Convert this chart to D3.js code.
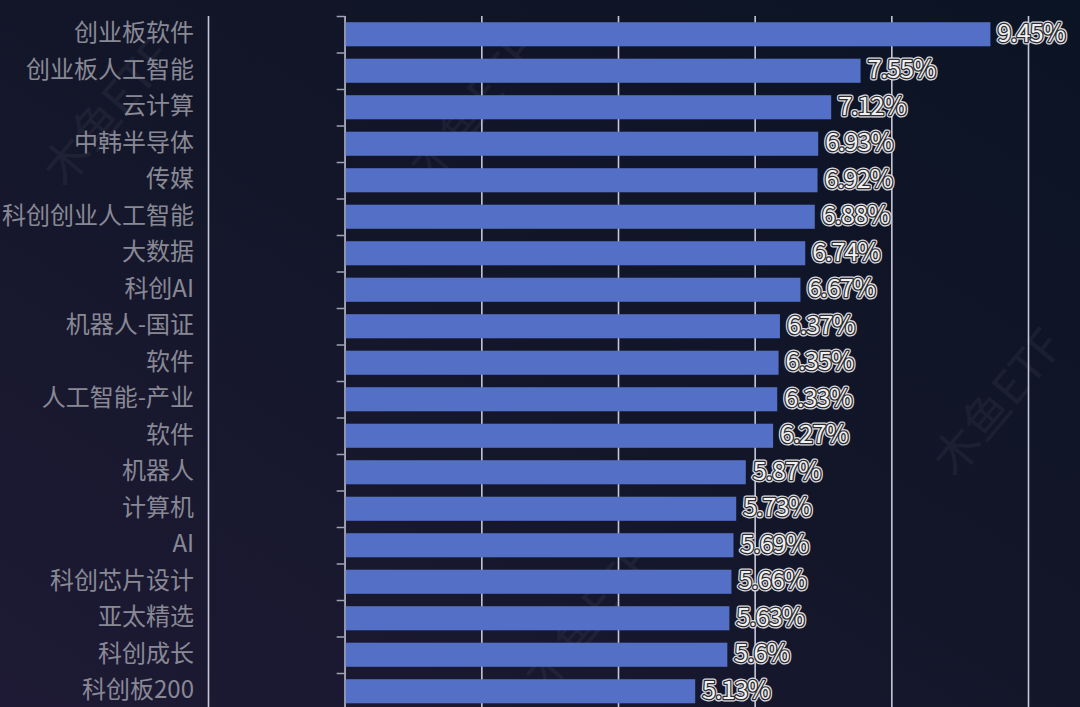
<!DOCTYPE html>
<html>
<head>
<meta charset="utf-8">
<script src="https://cdn.jsdelivr.net/npm/d3@7"></script>
<style>
  html, body { margin: 0; padding: 0; background: #121427; overflow: hidden; }
  svg { display: block; }
</style>
</head>
<body>
<svg id="chart"></svg>
<script>
// [A] Datos -------------------------------------------------------------
const categories = ["创业板软件", "创业板人工智能", "云计算", "中韩半导体", "传媒", "科创创业人工智能",
    "大数据", "科创AI", "机器人-国证", "软件", "人工智能-产业", "软件", "机器人", "计算机", "AI",
    "科创芯片设计", "亚太精选", "科创成长", "科创板200"];
const values = [9.45, 7.55, 7.12, 6.93, 6.92, 6.88, 6.74, 6.67, 6.37, 6.35, 6.33, 6.27, 5.87, 5.73,
    5.69, 5.66, 5.63, 5.6, 5.13];
const xTicks = [-2, 0, 2, 4, 6, 8, 10];
const watermarks = ["木鱼ETF", "木鱼ETF", "木鱼ETF", "木鱼ETF"];

// [B] Configuración -----------------------------------------------------
const width = 1080;
const height = 707;
const plotTop = 16;
const step = 36.5;
const plotBottom = plotTop + categories.length * step;
const labelShift = -3.5; // ajuste vertical de los textos

const svg = d3.select("#chart")
    .attr("width", width)
    .attr("height", height);

// [B.1] Fondo degradado
const defs = svg.append("defs");
const grad = defs.append("linearGradient")
    .attr("id", "bg")
    .attr("x1", "0%").attr("y1", "100%")
    .attr("x2", "100%").attr("y2", "0%");
grad.append("stop").attr("offset", "0%").attr("stop-color", "#1e1a35");
grad.append("stop").attr("offset", "50%").attr("stop-color", "#131629");
grad.append("stop").attr("offset", "100%").attr("stop-color", "#0b1424");
svg.append("rect")
    .attr("width", width).attr("height", height)
    .attr("fill", "url(#bg)");

// [B.2] Marcas de agua
const wmPos = [[105, 110], [470, 105], [995, 400], [585, 615]];
svg.append("g").selectAll("text")
    .data(watermarks)
    .join("text")
    .attr("transform", (d, i) => `translate(${wmPos[i][0]},${wmPos[i][1]}) rotate(-50)`)
    .attr("text-anchor", "middle")
    .attr("dominant-baseline", "central")
    .attr("font-family", "Noto Sans CJK SC")
    .attr("font-size", 46)
    .attr("fill", "#ffffff")
    .attr("opacity", 0.045)
    .text(d => d);

// [C] Escalas -----------------------------------------------------------
const x = d3.scaleLinear()
    .domain([-2, 10])
    .range([208, 1028]);

const y = d3.scaleBand()
    .domain(d3.range(categories.length))
    .range([plotTop, plotBottom])
    .paddingInner(0.34)
    .paddingOuter(0.17);

const yTick = d3.scaleLinear()
    .domain([0, categories.length])
    .range([plotTop, plotBottom]);

// [D] Grilla vertical ---------------------------------------------------
const grid = svg.append("g")
    .attr("transform", `translate(0,${plotBottom})`)
    .call(d3.axisBottom(x)
        .tickValues(xTicks)
        .tickSize(-(plotBottom - plotTop))
        .tickFormat(""));
grid.select(".domain").remove();
grid.selectAll(".tick line")
    .attr("stroke", "#c4c8d6")
    .attr("stroke-width", 1.6);

// [E] Eje Y con marcas en los límites de las bandas ---------------------
const yAxis = svg.append("g")
    .attr("transform", `translate(${x(0)},0)`)
    .call(d3.axisLeft(yTick)
        .tickValues(d3.range(categories.length + 1))
        .tickSize(8)
        .tickSizeOuter(0)
        .tickFormat(""));
yAxis.select(".domain").attr("stroke", "#a0a2b2").attr("stroke-width", 1.5);
yAxis.selectAll(".tick line").attr("stroke", "#a0a2b2").attr("stroke-width", 1.5);

// [F] Barras ------------------------------------------------------------
svg.append("g").selectAll("rect")
    .data(values)
    .join("rect")
    .attr("x", x(0) + 1)
    .attr("y", (d, i) => y(i))
    .attr("width", d => x(d) - x(0) - 1)
    .attr("height", y.bandwidth())
    .attr("fill", "#5470c6");

// [G] Etiquetas de categoría ---------------------------------------------
svg.append("g").selectAll("text")
    .data(categories)
    .join("text")
    .attr("x", 194)
    .attr("y", (d, i) => y(i) + y.bandwidth() / 2 + labelShift)
    .attr("text-anchor", "end")
    .attr("dominant-baseline", "central")
    .attr("font-family", "Noto Sans CJK SC")
    .attr("font-size", 24)
    .attr("fill", "#898995")
    .text(d => d);

// [H] Etiquetas de valor (halo claro + borde oscuro + relleno blanco) ----
const fmt = d => `${d}%`;
const layers = [
    { stroke: "#dcdce0", width: 5 },
    { stroke: "#2a2a2e", width: 2.6 },
    { stroke: "none", width: 0 }
];
layers.forEach(l => {
    svg.append("g").selectAll("text")
        .data(values)
        .join("text")
        .attr("x", d => x(d) + 7)
        .attr("y", (d, i) => y(i) + y.bandwidth() / 2 + labelShift)
        .attr("dominant-baseline", "central")
        .attr("font-family", "Noto Sans CJK SC")
        .attr("font-size", 25)
        .attr("letter-spacing", -0.8)
        .attr("fill", "#f0f0f2")
        .attr("stroke", l.stroke)
        .attr("stroke-width", l.width)
        .attr("stroke-linejoin", "round")
        .text(fmt);
});
</script>
</body>
</html>
